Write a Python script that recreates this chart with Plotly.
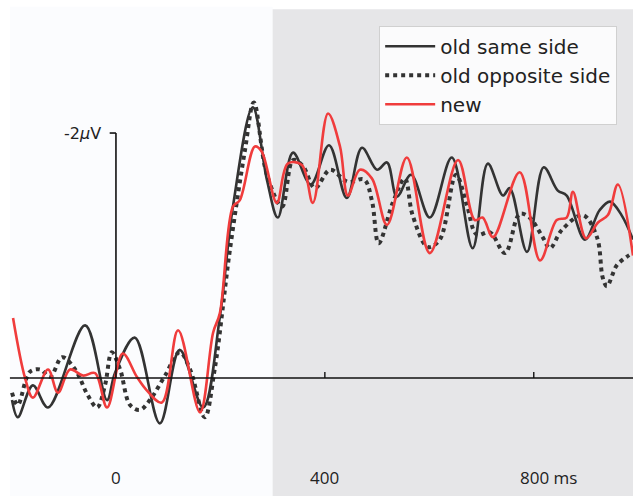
import plotly.graph_objects as go

# time (ms) and amplitude (µV, negative plotted upward)
t_same = [-199, -188, -159, -130, -59, -17, -2, 36, 84, 122, 167, 199, 224, 262, 289, 310, 339, 373,
          408, 442, 471, 500, 519, 538, 565, 601, 643, 683, 712, 741, 754, 787, 819, 846, 863, 898,
          926, 946, 968, 990]
v_same = [0.18, 0.32, 0.06, 0.24, -0.43, 0.18, -0.04, -0.33, 0.37, -0.23, 0.24, -0.50, -1.40, -2.21,
          -1.62, -1.31, -1.84, -1.58, -1.90, -1.47, -1.88, -1.70, -1.76, -1.48, -1.66, -1.31, -1.80,
          -1.06, -1.75, -1.49, -1.55, -1.03, -1.72, -1.53, -1.49, -1.13, -1.37, -1.44, -1.33, -1.13]

t_opp = [-199, -188, -165, -145, -126, -103, -78, -54, -36, -21, -8, 8, 27, 46, 65, 94, 122, 142, 170,
         189, 218, 247, 264, 289, 318, 339, 358, 381, 410, 444, 475, 490, 503, 530, 553, 568, 597, 620,
         651, 672, 691, 716, 745, 773, 792, 817, 831, 854, 894, 921, 932, 940, 959, 978, 990]
v_opp = [0.12, 0.22, -0.05, -0.07, -0.01, -0.17, -0.07, 0.14, 0.24, 0.06, -0.21, -0.07, 0.22, 0.26,
         0.18, -0.02, -0.21, -0.07, 0.32, -0.07, -1.04, -1.86, -2.25, -1.66, -1.40, -1.78, -1.73,
         -1.55, -1.70, -1.60, -1.62, -1.45, -1.10, -1.43, -1.63, -1.33, -1.07, -1.13, -1.66, -1.41,
         -1.17, -1.19, -1.02, -1.34, -1.31, -1.15, -1.06, -1.21, -1.33, -1.15, -0.82, -0.75, -0.92,
         -0.99, -1.02]

t_new = [-197, -174, -159, -130, -111, -88, -63, -40, -17, 13, 40, 59, 88, 119, 161, 186, 199, 224,
         237, 266, 279, 308, 329, 356, 377, 406, 429, 444, 467, 490, 519, 557, 601, 655, 687, 702, 722,
         773, 812, 844, 863, 875, 900, 923, 942, 961, 990]
v_new = [-0.49, 0.00, 0.16, -0.07, 0.12, -0.07, -0.02, -0.04, 0.24, -0.20, -0.01, 0.10, 0.20, -0.39,
         0.28, -0.37, -0.53, -1.40, -1.45, -1.89, -1.85, -1.43, -1.75, -1.74, -1.43, -2.16, -1.89,
         -1.49, -1.70, -1.63, -1.25, -1.80, -1.02, -1.78, -1.29, -1.31, -1.15, -1.68, -0.96, -1.29,
         -1.31, -1.52, -1.14, -1.27, -1.33, -1.58, -1.00]

series_names = ["old same side", "old opposite side", "new"]
x_ticks = [0, 400, 800]
x_tick_labels = ["0", "400", "800 ms"]
y_tick = -2
y_tick_label = "-2<i>μ</i>V"
window_start = 300

X_RANGE = [-222, 990]
Y_RANGE = [0.963, -3.086]

fig = go.Figure()
fig.add_trace(go.Scatter(x=t_same, y=v_same, name=series_names[0], mode="lines",
                         line=dict(color="#333333", width=2.6, shape="spline", smoothing=1.0)))
fig.add_trace(go.Scatter(x=t_opp, y=v_opp, name=series_names[1], mode="lines",
                         line=dict(color="#333333", width=4, dash="dot", shape="spline", smoothing=1.0)))
fig.add_trace(go.Scatter(x=t_new, y=v_new, name=series_names[2], mode="lines",
                         line=dict(color="#f03c3c", width=2.6, shape="spline", smoothing=1.0)))

shapes = [
    dict(type="rect", xref="x", yref="y", x0=-203, x1=window_start, y0=Y_RANGE[0], y1=-3.03,
         fillcolor="#fbfcfe", line_width=0, layer="below"),
    dict(type="rect", xref="x", yref="y", x0=window_start, x1=X_RANGE[1], y0=Y_RANGE[0], y1=-3.01,
         fillcolor="#e6e6e8", line_width=0, layer="below"),
    dict(type="line", xref="x", yref="y", x0=-203, x1=X_RANGE[1], y0=0, y1=0,
         line=dict(color="#111111", width=1.6), layer="above"),
    dict(type="line", xref="x", yref="y", x0=0, x1=0, y0=0, y1=y_tick,
         line=dict(color="#111111", width=1.6), layer="above"),
    dict(type="line", xref="x", yref="y", x0=-12, x1=0, y0=y_tick, y1=y_tick,
         line=dict(color="#111111", width=1.6), layer="above"),
]
for xt in x_ticks[1:]:
    shapes.append(dict(type="line", xref="x", yref="y", x0=xt, x1=xt, y0=0, y1=-0.05,
                       line=dict(color="#111111", width=1.4), layer="above"))

annotations = []
for xt, lab in zip(x_ticks, x_tick_labels):
    annotations.append(dict(x=xt, y=0.81, xref="x", yref="y", text=lab, showarrow=False,
                            xanchor="left" if lab.endswith("ms") else "center",
                            xshift=-16 if lab.endswith("ms") else 0,
                            font=dict(family="Open Sans", size=17, color="#222222")))
annotations.append(dict(x=-24, y=y_tick, xref="x", yref="y", text=y_tick_label, showarrow=False,
                        xanchor="right", yanchor="middle",
                        font=dict(family="DejaVu Sans", size=16, color="#222222")))

fig.update_layout(
    width=633, height=496,
    margin=dict(l=0, r=0, t=0, b=0),
    paper_bgcolor="white", plot_bgcolor="white",
    xaxis=dict(range=X_RANGE, visible=False, showgrid=False, zeroline=False),
    yaxis=dict(range=Y_RANGE, visible=False, showgrid=False, zeroline=False),
    shapes=shapes, annotations=annotations,
    showlegend=True,
    legend=dict(x=0.599, y=0.948, xanchor="left", yanchor="top",
                bgcolor="rgba(252,252,253,0.95)", bordercolor="#d0d0d0", borderwidth=1,
                font=dict(family="DejaVu Sans", size=20, color="#222222"),
                itemwidth=50, tracegroupgap=0),
)

fig.write_html("out.html")
